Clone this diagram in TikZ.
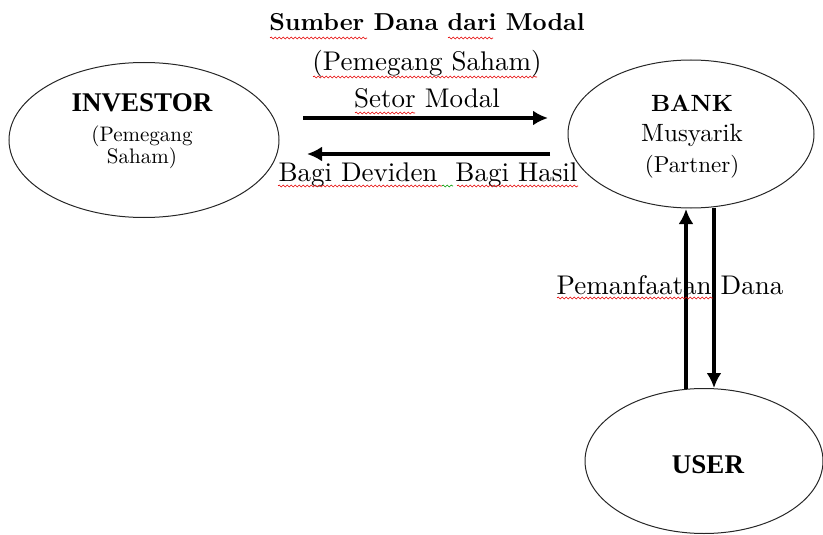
\documentclass[tikz,border=0pt]{standalone}
\usepackage{fontspec}
\newfontfamily\tnr{Liberation Serif}
\newfontfamily\lmt{lmroman10-regular.otf}[BoldFont=lmroman10-bold.otf]
\usetikzlibrary{shapes.geometric,arrows.meta,decorations.pathmorphing}
\tikzset{
  oval/.style={ellipse,draw=black!85,line width=1pt,inner sep=0pt},
  lbl/.style={anchor=base,inner sep=0pt,font=\lmt\fontsize{27}{30}\selectfont},
  lblb/.style={anchor=base,inner sep=0pt,font=\lmt\fontsize{24.5}{30}\selectfont\bfseries},
  tlbl/.style={anchor=base,inner sep=0pt,font=\lmt\fontsize{21}{26}\selectfont},
  tlblb/.style={anchor=base,inner sep=0pt,font=\tnr\fontsize{27}{30}\selectfont\bfseries},
  flow/.style={line width=4pt,-{Latex[length=15pt,width=15pt]}},
  squig/.style={red!90!black,line width=0.6pt,decorate,decoration={snake,segment length=4pt,amplitude=1pt}},
  squigg/.style={green!60!black,line width=0.6pt,decorate,decoration={snake,segment length=4pt,amplitude=1pt}}
}
\begin{document}
\begin{tikzpicture}[x=1pt,y=-1pt]
\useasboundingbox (0,0) rectangle (823,535);
% ellipses
\node[oval,minimum width=270pt,minimum height=155pt] (inv) at (144,140) {};
\node[oval,minimum width=246pt,minimum height=148pt] (bank) at (691,134) {};
\node[oval,minimum width=238pt,minimum height=145pt] (user) at (704,461) {};
% ellipse texts
\node[tlblb] (invt) at (142,112) {INVESTOR};
\node[tlbl] (invs1) at (142,142) {(Pemegang};
\node[tlbl] (invs2) at (142,163) {Saham)};
\node[lblb,font=\lmt\fontsize{23.5}{28}\selectfont\bfseries] (bankt) at (692,112) {BANK};
\node[lbl,font=\lmt\fontsize{25}{28}\selectfont] (banks1) at (692,142) {Musyarik};
\node[lbl,font=\lmt\fontsize{23}{28}\selectfont] (banks2) at (692,172) {(Partner)};
\node[tlblb] (usert) at (708,473) {USER};
% top texts
\node[lblb] (title) at (427,31) {Sumber Dana dari Modal};
\node[lbl] (sub) at (427,71) {(Pemegang Saham)};
\node[lbl] (setor) at (427,107) {Setor Modal};
\node[lbl] (bagi) at (428,182) {Bagi Deviden\hspace{0.333em} Bagi Hasil};
\node[lbl] (pem) at (670,294) {Pemanfaatan Dana};
% arrow end points
\coordinate (s1) at (303,118);
\coordinate (s2) at (548,118);
\coordinate (b1) at (550,154);
\coordinate (b2) at (307,154);
\coordinate (u1) at (686,389);
\coordinate (u2) at (686,209);
\coordinate (d1) at (714,208);
\coordinate (d2) at (714,388);
\draw[flow] (s1) -- (s2);
\draw[flow] (b1) -- (b2);
\draw[flow] (u1) -- (u2);
\draw[flow] (d1) -- (d2);
% spell-check squiggles
\draw[squig] (270,38) -- (367,38);
\draw[squig] (448,38) -- (493,38);
\draw[squig] (313,77) -- (537,77);
\draw[squig] (355,113) -- (415,113);
\draw[squig] (278,186) -- (442,186);
\draw[squigg] (442,186) -- (453,186);
\draw[squig] (457,186) -- (578,186);
\draw[squig] (557,298) -- (713,298);
\end{tikzpicture}
\end{document}
